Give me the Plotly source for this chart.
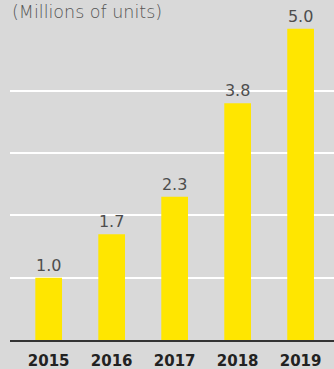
import plotly.graph_objects as go

years = ["2015", "2016", "2017", "2018", "2019"]
values = [1.0, 1.7, 2.3, 3.8, 5.0]
labels = ["1.0", "1.7", "2.3", "3.8", "5.0"]
unit_label = "(Millions of units)"
grid_ticks = [1, 2, 3, 4]

BG = "#d9d9d9"
fig = go.Figure(go.Bar(
    x=years, y=values, text=labels, textposition="outside",
    marker=dict(color="#ffe600", line=dict(width=0)),
    textfont=dict(family="DejaVu Sans", size=16, color="#4d4d4d"),
    cliponaxis=False, constraintext="none", width=0.424,
))
fig.update_layout(
    width=334, height=369, paper_bgcolor=BG, plot_bgcolor=BG,
    margin=dict(l=10, r=0, t=0, b=29),
    showlegend=False,
    xaxis=dict(type="category", range=[-0.614, 4.53], showgrid=False, automargin=False,
               showline=True, linecolor="#333333", linewidth=2,
               ticks="outside", ticklen=6, tickcolor=BG,
               tickfont=dict(family="DejaVu Sans", size=15, color="#222222", weight="bold")),
    yaxis=dict(range=[0, 5.46], tickvals=grid_ticks, showticklabels=False, automargin=False,
               gridcolor="#ffffff", gridwidth=1.5, zeroline=False),
    annotations=[dict(text=unit_label, xref="paper", yref="paper",
                      x=0.0, y=1.0, yshift=0, xanchor="left", yanchor="top",
                      showarrow=False,
                      font=dict(family="DejaVu Sans", size=17.5, color="#555555", weight=300))],
)
fig.write_html(
    "out.html",
    config={"displayModeBar": False},
    post_script="document.body.style.margin='0';document.body.style.padding='0';"
                "document.body.style.background='#d9d9d9';document.body.style.overflow='hidden';",
)
